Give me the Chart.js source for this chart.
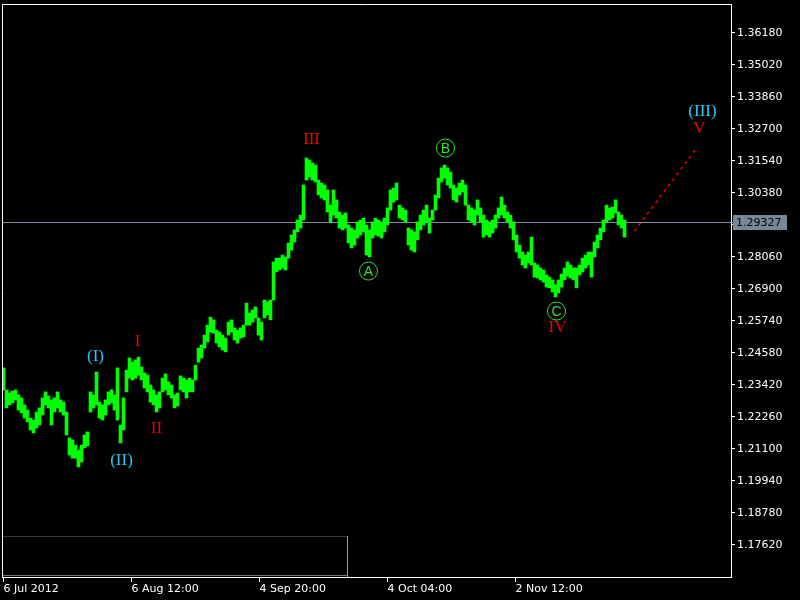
<!DOCTYPE html>
<html><head><meta charset="utf-8">
<style>html,body{margin:0;padding:0;background:#000;}canvas{display:block;}</style>
<script src="https://cdn.jsdelivr.net/npm/chart.js@4.4.1/dist/chart.umd.min.js"></script>
</head><body>
<canvas id="c" width="800" height="600"></canvas>
<script>
// Each sample = 3 H4 bars (12 hours); x unit = H4 bar number from 6 Jul 2012
const highs = [
1.2404,1.2324,1.2313,1.2320,1.2324,1.2306,1.2295,1.2270,1.2251,1.2222,
1.2215,1.2244,1.2259,1.2295,1.2317,1.2302,1.2288,1.2295,1.2317,1.2288,
1.2280,1.2244,1.2150,1.2143,1.2124,1.2106,1.2124,1.2161,1.2172,1.2317,
1.2306,1.2389,1.2280,1.2270,1.2288,1.2317,1.2324,1.2306,1.2404,1.2197,
1.2295,1.2396,1.2440,1.2425,1.2433,1.2443,1.2407,1.2386,1.2378,1.2342,
1.2324,1.2306,1.2317,1.2367,1.2382,1.2353,1.2342,1.2306,1.2313,1.2375,
1.2367,1.2360,1.2367,1.2360,1.2414,1.2476,1.2487,1.2523,1.2559,1.2588,
1.2578,1.2541,1.2534,1.2523,1.2512,1.2570,1.2578,1.2549,1.2541,1.2549,
1.2559,1.2639,1.2603,1.2614,1.2625,1.2585,1.2570,1.2650,1.2643,1.2650,
1.2788,1.2802,1.2802,1.2813,1.2806,1.2857,1.2886,1.2904,1.2940,1.2958,
1.3067,1.3165,1.3158,1.3147,1.3139,1.3085,1.3074,1.3067,1.3049,1.2994,
1.3049,1.3013,1.2969,1.2958,1.2966,1.2922,1.2911,1.2904,1.2933,1.2940,
1.2947,1.2922,1.2904,1.2933,1.2947,1.2940,1.2933,1.2947,1.2984,1.3049,
1.3056,1.3074,1.2994,1.2984,1.2976,1.2911,1.2904,1.2897,1.2933,1.2958,
1.2976,1.2994,1.2947,1.2976,1.3031,1.3092,1.3129,1.3139,1.3129,1.3114,
1.3067,1.3056,1.3074,1.3085,1.3067,1.2994,1.2984,1.2976,1.3013,1.2984,
1.2958,1.2940,1.2933,1.2940,1.2958,1.2984,1.3023,1.2994,1.2969,1.2958,
1.2933,1.2886,1.2849,1.2824,1.2813,1.2824,1.2878,1.2784,1.2777,1.2766,
1.2759,1.2741,1.2733,1.2723,1.2705,1.2723,1.2744,1.2766,1.2788,1.2777,
1.2766,1.2766,1.2777,1.2802,1.2813,1.2824,1.2824,1.2860,1.2886,1.2911,
1.2940,1.2994,1.2984,1.2987,1.3013,1.2969,1.2958,1.2940
];
const lows = [
1.2324,1.2259,1.2270,1.2277,1.2288,1.2251,1.2241,1.2222,1.2208,1.2179,
1.2168,1.2186,1.2197,1.2233,1.2270,1.2259,1.2197,1.2244,1.2259,1.2244,
1.2233,1.2161,1.2088,1.2077,1.2077,1.2045,1.2063,1.2114,1.2121,1.2244,
1.2259,1.2270,1.2222,1.2215,1.2233,1.2270,1.2277,1.2251,1.2215,1.2132,
1.2179,1.2317,1.2367,1.2360,1.2367,1.2378,1.2360,1.2331,1.2317,1.2280,
1.2270,1.2244,1.2259,1.2317,1.2324,1.2306,1.2295,1.2259,1.2266,1.2324,
1.2317,1.2295,1.2317,1.2317,1.2360,1.2425,1.2440,1.2476,1.2498,1.2534,
1.2530,1.2494,1.2480,1.2469,1.2462,1.2523,1.2534,1.2505,1.2494,1.2512,
1.2516,1.2559,1.2559,1.2570,1.2585,1.2523,1.2505,1.2585,1.2596,1.2578,
1.2650,1.2752,1.2759,1.2766,1.2759,1.2802,1.2831,1.2860,1.2897,1.2911,
1.2940,1.3085,1.3096,1.3085,1.3078,1.3031,1.3020,1.3013,1.2969,1.2933,
1.2958,1.2947,1.2911,1.2904,1.2911,1.2857,1.2839,1.2849,1.2875,1.2886,
1.2897,1.2813,1.2806,1.2875,1.2886,1.2882,1.2875,1.2897,1.2922,1.2976,
1.3005,1.3013,1.2947,1.2940,1.2933,1.2849,1.2831,1.2824,1.2868,1.2904,
1.2922,1.2933,1.2893,1.2940,1.2976,1.3020,1.3078,1.3092,1.3067,1.3056,
1.3013,1.3005,1.3031,1.3042,1.2994,1.2940,1.2933,1.2922,1.2958,1.2933,
1.2878,1.2886,1.2878,1.2893,1.2911,1.2947,1.2958,1.2947,1.2933,1.2911,
1.2868,1.2824,1.2802,1.2777,1.2766,1.2784,1.2777,1.2733,1.2730,1.2723,
1.2715,1.2697,1.2694,1.2679,1.2661,1.2676,1.2697,1.2723,1.2737,1.2730,
1.2723,1.2694,1.2741,1.2752,1.2766,1.2777,1.2733,1.2806,1.2839,1.2868,
1.2897,1.2933,1.2940,1.2947,1.2966,1.2922,1.2911,1.2878
];
const barsPerSample = 3;
const xTickPos = [0, 128, 256, 384, 512];
const xTickLabels = ['6 Jul 2012', '6 Aug 12:00', '4 Sep 20:00', '4 Oct 04:00', '2 Nov 12:00'];
const yTicks = [1.3618,1.3502,1.3386,1.3270,1.3154,1.3038,1.2922,1.2806,1.2690,1.2574,1.2458,1.2342,1.2226,1.2110,1.1994,1.1878,1.1762];
const yMin = 1.1646, yMax = 1.37231;
const xMin = -1.5, xMax = 727.5;
const currentPrice = 1.29327;
const projX = [631, 694];
const projY = [1.2900, 1.3205];
const waveText  = ['(I)', '(II)', 'I', 'II', 'III', 'A', 'B', 'C', 'IV', '(III)', 'V'];
const waveX     = [92, 118, 134, 153, 308, 365, 442, 553, 554, 699, 696];
const waveY     = [1.2447, 1.2070, 1.2498, 1.2183, 1.3230, 1.2755, 1.3201, 1.2610, 1.2552, 1.3335, 1.3270];
const waveKind  = ['cyan', 'cyan', 'red', 'red', 'red', 'circle', 'circle', 'circle', 'red', 'cyan', 'red'];

const barData = highs.map((h, i) => ({x: i * barsPerSample, y: [lows[i], h]}));
const projData = projX.map((x, i) => ({x: x, y: projY[i]}));

Chart.defaults.font.family = 'DejaVu Sans';
Chart.defaults.font.size = 11;

const decor = {
  id: 'decor',
  beforeDraw(chart) {
    const c = chart.ctx; c.save(); c.fillStyle = '#000'; c.fillRect(0, 0, chart.width, chart.height); c.restore();
  },
  beforeDatasetsDraw(chart) {
    const {ctx, chartArea: a, scales: {y}} = chart;
    ctx.save();
    const py = Math.round(y.getPixelForValue(currentPrice)) + 0.5;
    ctx.strokeStyle = '#8090a0'; ctx.lineWidth = 1;
    ctx.beginPath(); ctx.moveTo(a.left, py); ctx.lineTo(a.right + 2, py); ctx.stroke();
    // bottom-left panel
    const pl = a.left + 1, pr = a.left + 345, pt = a.bottom - 41;
    ctx.strokeStyle = '#3a3a3a';
    ctx.beginPath(); ctx.moveTo(pl, pt + 0.5); ctx.lineTo(pr, pt + 0.5); ctx.stroke();
    ctx.strokeStyle = '#9a9a9a';
    ctx.beginPath(); ctx.moveTo(pr + 0.5, pt); ctx.lineTo(pr + 0.5, a.bottom); ctx.stroke();
    ctx.strokeStyle = '#777';
    ctx.beginPath(); ctx.moveTo(pl, a.bottom - 1.5); ctx.lineTo(pr, a.bottom - 1.5); ctx.stroke();
    ctx.restore();
  },
  afterDatasetsDraw(chart) {
    const {ctx, scales: {x, y}} = chart;
    ctx.save();
    ctx.textAlign = 'center'; ctx.textBaseline = 'middle';
    waveText.forEach((t, i) => {
      const px = x.getPixelForValue(waveX[i]), py = y.getPixelForValue(waveY[i]);
      const k = waveKind[i];
      if (k === 'circle') {
        ctx.strokeStyle = '#2ee02e'; ctx.lineWidth = 1;
        ctx.beginPath(); ctx.arc(px, py, 9, 0, Math.PI * 2); ctx.stroke();
        ctx.fillStyle = '#2ee02e'; ctx.font = '14px "Liberation Sans"';
        ctx.fillText(t, px, py + 1);
      } else {
        ctx.fillStyle = k === 'cyan' ? '#2ec8f5' : '#ee0000';
        ctx.font = '17px "Liberation Serif"';
        ctx.fillText(t, px, py);
      }
    });
    ctx.restore();
  },
  afterDraw(chart) {
    const {ctx, chartArea: a, scales: {y}} = chart;
    ctx.save();
    ctx.strokeStyle = '#fff'; ctx.lineWidth = 1;
    ctx.beginPath();
    ctx.moveTo(a.left + 0.5, a.bottom); ctx.lineTo(a.left + 0.5, a.top + 0.5); ctx.lineTo(a.right, a.top + 0.5);
    ctx.stroke();
    const py = Math.round(y.getPixelForValue(currentPrice));
    ctx.fillStyle = '#778899';
    ctx.fillRect(a.right + 2, py - 7, 54, 15);
    ctx.fillStyle = '#000'; ctx.font = '11px "DejaVu Sans"';
    ctx.textAlign = 'left'; ctx.textBaseline = 'middle';
    ctx.fillText(currentPrice.toFixed(5), a.right + 5, py + 1);
    ctx.restore();
  }
};

new Chart(document.getElementById('c'), {
  data: {
    datasets: [
      {type: 'bar', data: barData, backgroundColor: '#00ff00', borderWidth: 0,
       barThickness: 3, grouped: false, order: 2},
      {type: 'line', data: projData, borderColor: '#ff0000', borderWidth: 1.4,
       borderDash: [3, 4], pointRadius: 0, fill: false, order: 1}
    ]
  },
  options: {
    responsive: false, animation: false, devicePixelRatio: 1,
    layout: {padding: {left: 2, top: 4, right: 0, bottom: 0}},
    plugins: {legend: {display: false}, tooltip: {enabled: false}},
    scales: {
      x: {
        type: 'linear', min: xMin, max: xMax, offset: false,
        grid: {display: true, drawOnChartArea: false, drawTicks: true, tickLength: 5, color: '#fff', offset: false},
        border: {display: true, color: '#fff', width: 1},
        ticks: {color: '#fff', align: 'start', padding: 1, maxRotation: 0, autoSkip: false,
                font: {family: 'DejaVu Sans', size: 11},
                callback: (v, i) => xTickLabels[i]},
        afterBuildTicks: s => { s.ticks = xTickPos.map(v => ({value: v})); },
        afterFit: s => { s.height = 23; s.paddingLeft = 0; s.paddingRight = 0; }
      },
      y: {
        type: 'linear', position: 'right', min: yMin, max: yMax,
        grid: {display: true, drawOnChartArea: false, drawTicks: true, tickLength: 4, color: '#fff'},
        border: {display: true, color: '#fff', width: 1},
        ticks: {color: '#fff', padding: 2, font: {family: 'DejaVu Sans', size: 11},
                callback: v => Number(v).toFixed(5)},
        afterBuildTicks: s => { s.ticks = yTicks.map(v => ({value: v})); },
        afterFit: s => { s.width = 69; s.paddingTop = 0; s.paddingBottom = 0; }
      }
    }
  },
  plugins: [decor]
});
</script>
</body></html>
